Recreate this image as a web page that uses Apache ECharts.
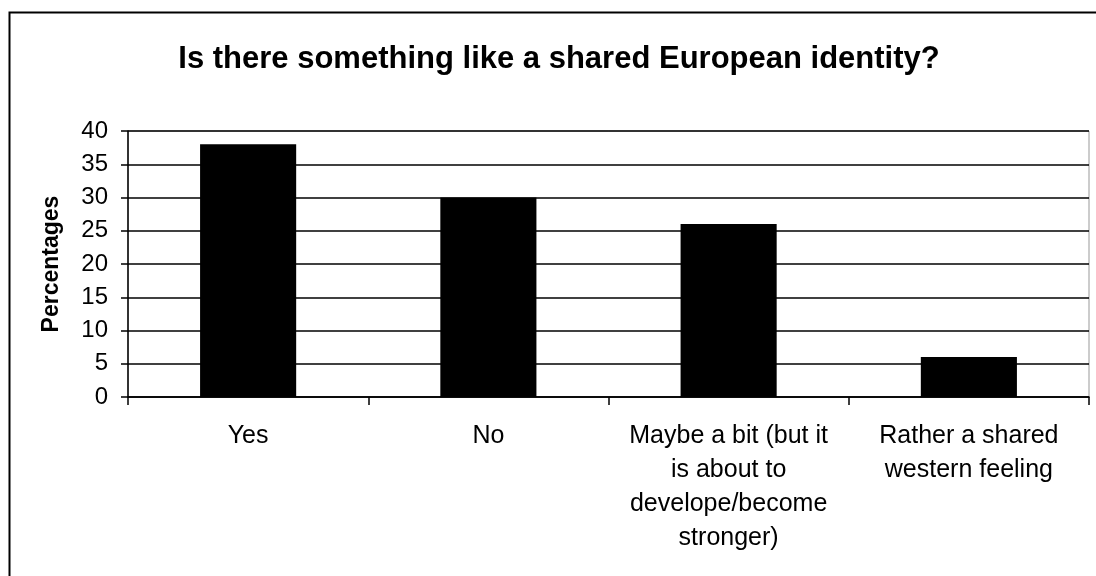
<!DOCTYPE html>
<html>
<head>
<meta charset="utf-8">
<script src="https://cdn.jsdelivr.net/npm/echarts@6/dist/echarts.min.js"></script>
<style>
  html, body { margin: 0; padding: 0; background: #fff; }
  #chart { width: 1096px; height: 576px; }
</style>
</head>
<body>
<div id="chart"></div>
<script>
var categories = [
  'Yes',
  'No',
  'Maybe a bit (but it\nis about to\ndevelope/become\nstronger)',
  'Rather a shared\nwestern feeling'
];
var percentages = [38, 30, 26, 6];

var chart = echarts.init(document.getElementById('chart'), null, { renderer: 'canvas' });

var option = {
  backgroundColor: '#fff',
  animation: false,
  title: {
    text: 'Is there something like a shared European identity?',
    left: 554,
    textAlign: 'center',
    top: 39,
    textStyle: {
      fontFamily: 'Liberation Sans, Arial, sans-serif',
      fontSize: 31,
      fontWeight: 'bold',
      color: '#000'
    }
  },
  graphic: [
    {
      type: 'rect',
      left: 7,
      top: 10,
      shape: { width: 1120, height: 620 },
      style: { fill: 'none', stroke: '#000', lineWidth: 2 },
      silent: true
    }
  ],
  grid: {
    left: 128,
    right: 7,
    top: 131,
    bottom: 179,
    show: true,
    borderColor: '#999',
    borderWidth: 1
  },
  xAxis: {
    type: 'category',
    data: categories,
    axisLine: { lineStyle: { color: '#000', width: 1.5 } },
    axisTick: { show: true, length: 8, lineStyle: { color: '#000', width: 1.5 } },
    axisLabel: {
      interval: 0,
      color: '#000',
      fontFamily: 'Liberation Sans, Arial, sans-serif',
      fontSize: 25,
      lineHeight: 34,
      margin: 22
    }
  },
  yAxis: {
    type: 'value',
    min: 0,
    max: 40,
    interval: 5,
    name: 'Percentages',
    nameLocation: 'middle',
    nameGap: 65,
    nameTextStyle: {
      fontFamily: 'Liberation Sans, Arial, sans-serif',
      fontSize: 23,
      fontWeight: 'bold',
      color: '#000'
    },
    axisLine: { show: true, lineStyle: { color: '#000', width: 1.5 } },
    axisTick: { show: true, length: 7, lineStyle: { color: '#000', width: 1.5 } },
    axisLabel: {
      color: '#000',
      fontFamily: 'Liberation Sans, Arial, sans-serif',
      fontSize: 24,
      margin: 20
    },
    splitLine: { lineStyle: { color: '#000', width: 1.5 } }
  },
  series: [
    {
      name: 'Percentages',
      type: 'bar',
      data: percentages,
      barWidth: '40%',
      itemStyle: { color: '#000' }
    }
  ]
};

chart.setOption(option);
</script>
</body>
</html>
